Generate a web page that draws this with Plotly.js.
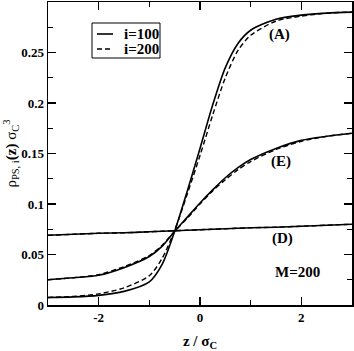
<!DOCTYPE html>
<html>
<head>
<meta charset="utf-8">
<script src="https://cdn.plot.ly/plotly-3.0.1.min.js"></script>
<style>html,body{margin:0;padding:0;background:#fff;}#chart{width:354px;height:351px;}</style>
</head>
<body>
<div id="chart"></div>
<script>
const z = [-3, -2.5, -2, -1.5, -1, -0.75, -0.5, -0.25, 0, 0.25, 0.5, 0.75, 1, 1.5, 2, 2.5, 3];
const A_i100 = [0.0075, 0.008, 0.0095, 0.0135, 0.023, 0.040, 0.073, 0.113, 0.155, 0.198, 0.235, 0.259, 0.272, 0.283, 0.287, 0.289, 0.290];
const A_i200 = [0.0075, 0.0085, 0.011, 0.017, 0.029, 0.046, 0.074, 0.110, 0.148, 0.188, 0.225, 0.252, 0.267, 0.281, 0.286, 0.289, 0.290];
const E_i100 = [0.025, 0.027, 0.0295, 0.037, 0.048, 0.058, 0.073, 0.087, 0.101, 0.114, 0.126, 0.136, 0.144, 0.155, 0.163, 0.167, 0.170];
const E_i200 = [0.025, 0.027, 0.030, 0.038, 0.049, 0.059, 0.073, 0.086, 0.100, 0.113, 0.124, 0.134, 0.142, 0.154, 0.162, 0.167, 0.170];
const D_i100 = [0.069, 0.070, 0.071, 0.0715, 0.0725, 0.073, 0.0735, 0.074, 0.0745, 0.075, 0.0755, 0.076, 0.0765, 0.077, 0.078, 0.079, 0.080];
const D_i200 = [0.069, 0.070, 0.071, 0.0715, 0.0725, 0.073, 0.0735, 0.074, 0.0745, 0.075, 0.0755, 0.076, 0.0765, 0.077, 0.078, 0.079, 0.080];
const seriesNames = ['i=100', 'i=200'];
const xTickVals = [-2, 0, 2];
const xTickText = ['-2', '0', '2'];
const yTickVals = [0, 0.05, 0.1, 0.15, 0.2, 0.25];
const yTickText = ['0', '0.05', '0.1', '0.15', '0.2', '0.25'];
const curveLabels = ['(A)', '(E)', '(D)', 'M=200'];
const labelX = [1.56, 1.6, 1.62, 1.92];
const labelY = [0.268, 0.142, 0.066, 0.033];

const FONT = 'Liberation Serif, Times New Roman, serif';
const solid = {color: '#000', width: 1.6, shape: 'spline', smoothing: 0.8};
const dashed = {color: '#000', width: 1.4, dash: '5px,3px', shape: 'spline', smoothing: 0.8};

const traces = [
  {x: z, y: D_i200, mode: 'lines', line: dashed, name: seriesNames[1]},
  {x: z, y: E_i200, mode: 'lines', line: dashed, name: seriesNames[1]},
  {x: z, y: A_i200, mode: 'lines', line: dashed, name: seriesNames[1]},
  {x: z, y: D_i100, mode: 'lines', line: solid, name: seriesNames[0]},
  {x: z, y: E_i100, mode: 'lines', line: solid, name: seriesNames[0]},
  {x: z, y: A_i100, mode: 'lines', line: solid, name: seriesNames[0]}
];

// Legend box (drawn in paper coordinates of the plot area)
const P = {l: 48, t: 2, w: 304, h: 303};
const px = v => (v - P.l) / P.w;
const py = v => 1 - (v - P.t) / P.h;
const shapes = [
  {type: 'rect', xref: 'paper', yref: 'paper', x0: px(92), x1: px(160), y0: py(58), y1: py(23),
   line: {color: '#000', width: 1}, fillcolor: '#fff', layer: 'above'},
  {type: 'line', xref: 'paper', yref: 'paper', x0: px(97), x1: px(113), y0: py(34), y1: py(34),
   line: {color: '#000', width: 1.6}},
  {type: 'line', xref: 'paper', yref: 'paper', x0: px(97), x1: px(113), y0: py(49), y1: py(49),
   line: {color: '#000', width: 1.4, dash: '5px,3px'}}
];

const annotations = curveLabels.map((t, i) => ({
  x: labelX[i], y: labelY[i], xref: 'x', yref: 'y', text: '<b>' + t + '</b>',
  showarrow: false, font: {family: FONT, size: 15, color: '#000'}
}));
annotations.push(
  {xref: 'paper', yref: 'paper', x: px(122), y: py(34), xanchor: 'left', yanchor: 'middle',
   text: '<b>' + seriesNames[0] + '</b>', showarrow: false, font: {family: FONT, size: 15, color: '#000'}},
  {xref: 'paper', yref: 'paper', x: px(122), y: py(49), xanchor: 'left', yanchor: 'middle',
   text: '<b>' + seriesNames[1] + '</b>', showarrow: false, font: {family: FONT, size: 15, color: '#000'}}
);

const axisCommon = {
  showline: true, linecolor: '#000', linewidth: 1.5, mirror: 'allticks',
  ticks: 'inside', ticklen: 8, tickwidth: 1.3, tickcolor: '#000',
  showgrid: false, zeroline: false, tickmode: 'array',
  tickfont: {family: FONT, size: 13, color: '#000', weight: 'bold'}
};

const layout = {
  width: 354, height: 351,
  margin: {l: 48, r: 2, t: 2, b: 46},
  paper_bgcolor: '#fff', plot_bgcolor: '#fff',
  showlegend: false,
  xaxis: Object.assign({}, axisCommon, {
    range: [-3, 3], tickvals: xTickVals, ticktext: xTickText,
    minor: {tickmode: 'linear', tick0: 0, dtick: 1, ticklen: 5, tickwidth: 1.3, tickcolor: '#000', ticks: 'inside'},
    title: {text: '<b>z / σ<sub>C</sub></b>', font: {family: FONT, size: 15, color: '#000'}, standoff: 11}
  }),
  yaxis: Object.assign({}, axisCommon, {
    range: [0, 0.3], tickvals: yTickVals, ticktext: yTickText,
    minor: {tickmode: 'linear', tick0: 0, dtick: 0.025, ticklen: 5, tickwidth: 1.3, tickcolor: '#000', ticks: 'inside'},
    title: {text: 'ρ<sub>PS, i</sub><b>(z)</b> σ<sub>C</sub><sup>3</sup>', font: {family: FONT, size: 15, color: '#000'}, standoff: 0}
  }),
  shapes: shapes,
  annotations: annotations
};

Plotly.newPlot('chart', traces, layout, {staticPlot: true, displayModeBar: false});
</script>
</body>
</html>
